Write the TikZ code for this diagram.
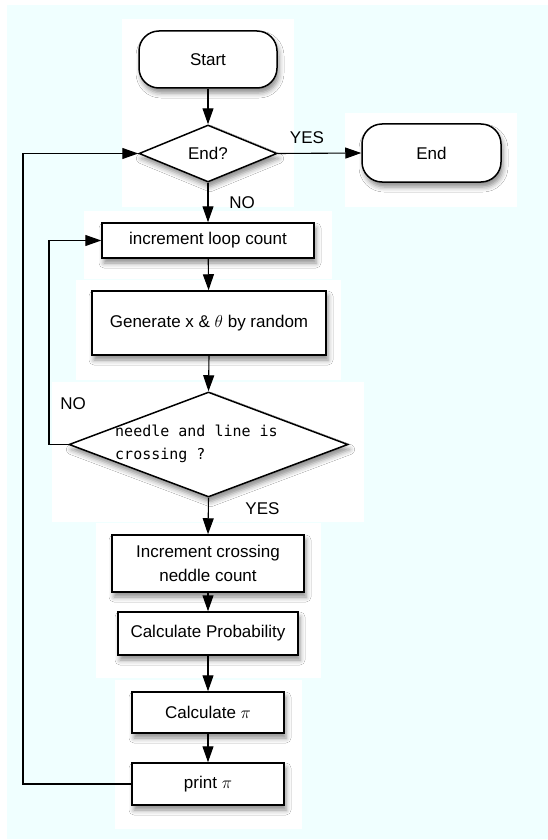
\documentclass[tikz,border=0pt]{standalone}
\usepackage{fontspec}
\setmainfont{Liberation Sans}
\newfontfamily\needlefont{DejaVu Sans Mono}
\usepackage{tikz}
\usetikzlibrary{shapes.geometric,arrows.meta,shadows.blur}
\definecolor{bgcyan}{HTML}{F0FFFF}

\tikzset{
	procbox/.style={draw, line width=1.5pt, fill=white, inner sep=0pt,
		blur shadow={shadow xshift=2pt, shadow yshift=-5pt, shadow blur radius=5pt, shadow opacity=45}},
	termbox/.style={procbox, rounded corners=20pt},
	decbox/.style={procbox, diamond},
	flowline/.style={line width=1.1pt, -{Triangle[length=16pt,width=11pt]}},
	flowplain/.style={line width=1.1pt},
}

\begin{document}
\begin{tikzpicture}[x=1pt, y=-1pt, line join=miter, font=\fontsize{17}{24}\selectfont]
			\useasboundingbox (0,0) rectangle (548,840);
			\fill[white] (0,0) rectangle (548,840);
			\fill[bgcyan] (7,5) rectangle (548,839);
			\fill[white] (122,19) rectangle (294,207);
			\fill[white] (345,113) rectangle (517,207);
			\fill[white] (84,211) rectangle (332,279);
			\fill[white] (76,280) rectangle (341,380);
			\fill[white] (52,382) rectangle (364,522);
			\fill[white] (96,523) rectangle (321,678);
			\fill[white] (115,680) rectangle (302,829);

			\node[termbox, minimum width=138pt, minimum height=57pt] (start) at (208,59.5) {Start};
			\node[decbox, minimum width=138pt, minimum height=57pt] (endq) at (208,153.5) {End?};
			\node[termbox, minimum width=139pt, minimum height=58pt] (end) at (431.5,153) {End};
			\node[procbox, minimum width=212pt, minimum height=35pt] (incr) at (208,240.5) {increment loop count};
			\node[procbox, minimum width=234pt, minimum height=64pt] (gen) at (209,323) {Generate x \& $\theta$\ by random};
			\node[decbox, minimum width=279pt, minimum height=105pt] (cross) at (208.5,444.5) {};
			\node[font=\needlefont\fontsize{15}{23}\selectfont, align=left, anchor=west, inner sep=0pt] (crosstxt) at (115,443.5) {needle and line is\\crossing ?};
			\node[procbox, minimum width=192pt, minimum height=57pt, align=center] (incc) at (208,563.5) {Increment crossing\\neddle count};
			\node[procbox, minimum width=180pt, minimum height=43pt] (prob) at (208,633.5) {Calculate Probability};
			\node[procbox, minimum width=152pt, minimum height=41pt] (calc) at (208,712.5) {Calculate $\pi$};
			\node[procbox, minimum width=152pt, minimum height=42pt] (print) at (208,784) {print $\pi$};

			\coordinate (loopin) at (49,444.5);
			\coordinate (loopout) at (23,784);

			\draw[flowline] (start) -- (endq);
			\draw[flowline] (endq.east) -- (end.west);
			\draw[flowline] (endq.south) -- (incr.north);
			\draw[flowline] (incr) -- (gen);
			\draw[flowline] (gen.south) -- (cross.north);
			\draw[flowline] (cross.west) -- (loopin) |- (incr.west);
			\draw[flowline] (cross.south) -- (incc.north);
			\draw[flowline] (incc) -- (prob);
			\draw[flowline] (prob) -- (calc);
			\draw[flowline] (calc) -- (print);
			\draw[flowline] (print.west) -- (loopout) |- (endq.west);

			\node (yesend) at (307,137.5) {YES};
			\node (noend) at (242,202.5) {NO};
			\node (nocross) at (73,403.5) {NO};
			\node (yescross) at (262.5,509) {YES};
		\end{tikzpicture}
\end{document}
